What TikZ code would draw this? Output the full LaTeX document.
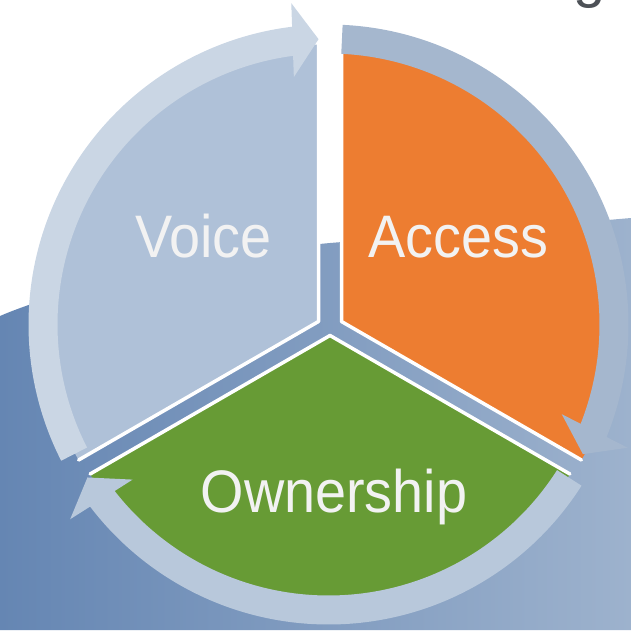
\documentclass[tikz,border=0pt]{standalone}
\usepackage{fontspec}
\setmainfont{Liberation Sans}
\usetikzlibrary{calc}
\definecolor{bgL}{HTML}{6586B3}
\definecolor{bgR}{HTML}{9DB2CD}
\definecolor{voicefill}{HTML}{AFC1D8}
\definecolor{voicearr}{HTML}{CAD6E4}
\definecolor{accessfill}{HTML}{ED7D31}
\definecolor{accessarr}{HTML}{A5B7CE}
\definecolor{ownfill}{HTML}{679B35}
\definecolor{ownarr}{HTML}{B8C8DB}
\definecolor{labeltext}{HTML}{F2F2F2}
\definecolor{titlegrey}{HTML}{4D5157}
\tikzset{
  edgeline/.style={draw=white, line width=3.5pt, line cap=round, line join=round},
  seglabel/.style={text=labeltext, font=\fontsize{60}{60}\selectfont, anchor=base, inner sep=0pt},
}
\newcommand{\cycarrow}[4]{% color, start angle, tip angle, name
  \pgfmathsetmacro{\shaftend}{#3+4.2}
  \fill[#1] ($(C)+(#2:300)$) arc[start angle=#2, end angle=\shaftend, radius=300]
     -- ($(C)+(\shaftend:271)$) arc[start angle=\shaftend, end angle=#2, radius=271] -- cycle;
  \coordinate (#4T) at ($(C)+(#3:285.5)$);
  \coordinate (#4B) at ($(#4T)+(#3+90:26)$);
  \coordinate (#4O) at ($(#4B)+(#3:37)$);
  \coordinate (#4I) at ($(#4B)+(#3+180:37)$);
  \fill[#1] (#4O) -- (#4T) -- (#4I) -- cycle;
}
\begin{document}
\begin{tikzpicture}[x=1pt,y=1pt]
\useasboundingbox (0,0) rectangle (631,630);
% background swoosh
\shade[left color=bgL, right color=bgR]
  (0,0) -- (0,314) .. controls (60,340) and (200,375) .. (330,387)
  .. controls (450,397) and (550,405) .. (631,412) -- (631,0) -- cycle;
% title fragment
\node[text=titlegrey, font=\fontsize{58}{58}\selectfont, anchor=base, inner sep=0pt] (title) at (590,633) {g};
% centres
\coordinate (C) at (328.5,305.5);
\coordinate (VA) at (318.5,308.5);
\coordinate (AA) at (341.5,308.5);
\coordinate (OA) at (330,294.5);
% sectors
\fill[voicefill] (VA) -- ++(90:277) arc[start angle=90, end angle=210, radius=277] -- cycle;
\fill[accessfill] (AA) -- ++(-30:277) arc[start angle=-30, end angle=90, radius=277] -- cycle;
\fill[ownfill] (OA) -- ++(210:277) arc[start angle=210, end angle=330, radius=277] -- cycle;
\draw[edgeline] ($(VA)+(90:277)$) -- (VA) -- ($(VA)+(210:277)$);
\draw[edgeline] ($(AA)+(90:277)$) -- (AA) -- ($(AA)+(-30:277)$);
\draw[edgeline] ($(OA)+(210:277)$) -- (OA) -- ($(OA)+(330:277)$);
% arrows
\cycarrow{voicearr}{207}{92}{v}
\cycarrow{accessarr}{87.3}{-27}{a}
\cycarrow{ownarr}{-32.5}{-147.6}{o}
% labels
\node[seglabel] (voice) at (203.5,372) {\scalebox{0.93}[1]{Voice}};
\node[seglabel] (access) at (458,372) {\scalebox{0.93}[1]{Access}};
\node[seglabel] (own) at (334,118) {\scalebox{0.93}[1]{Ownership}};
\end{tikzpicture}
\end{document}
